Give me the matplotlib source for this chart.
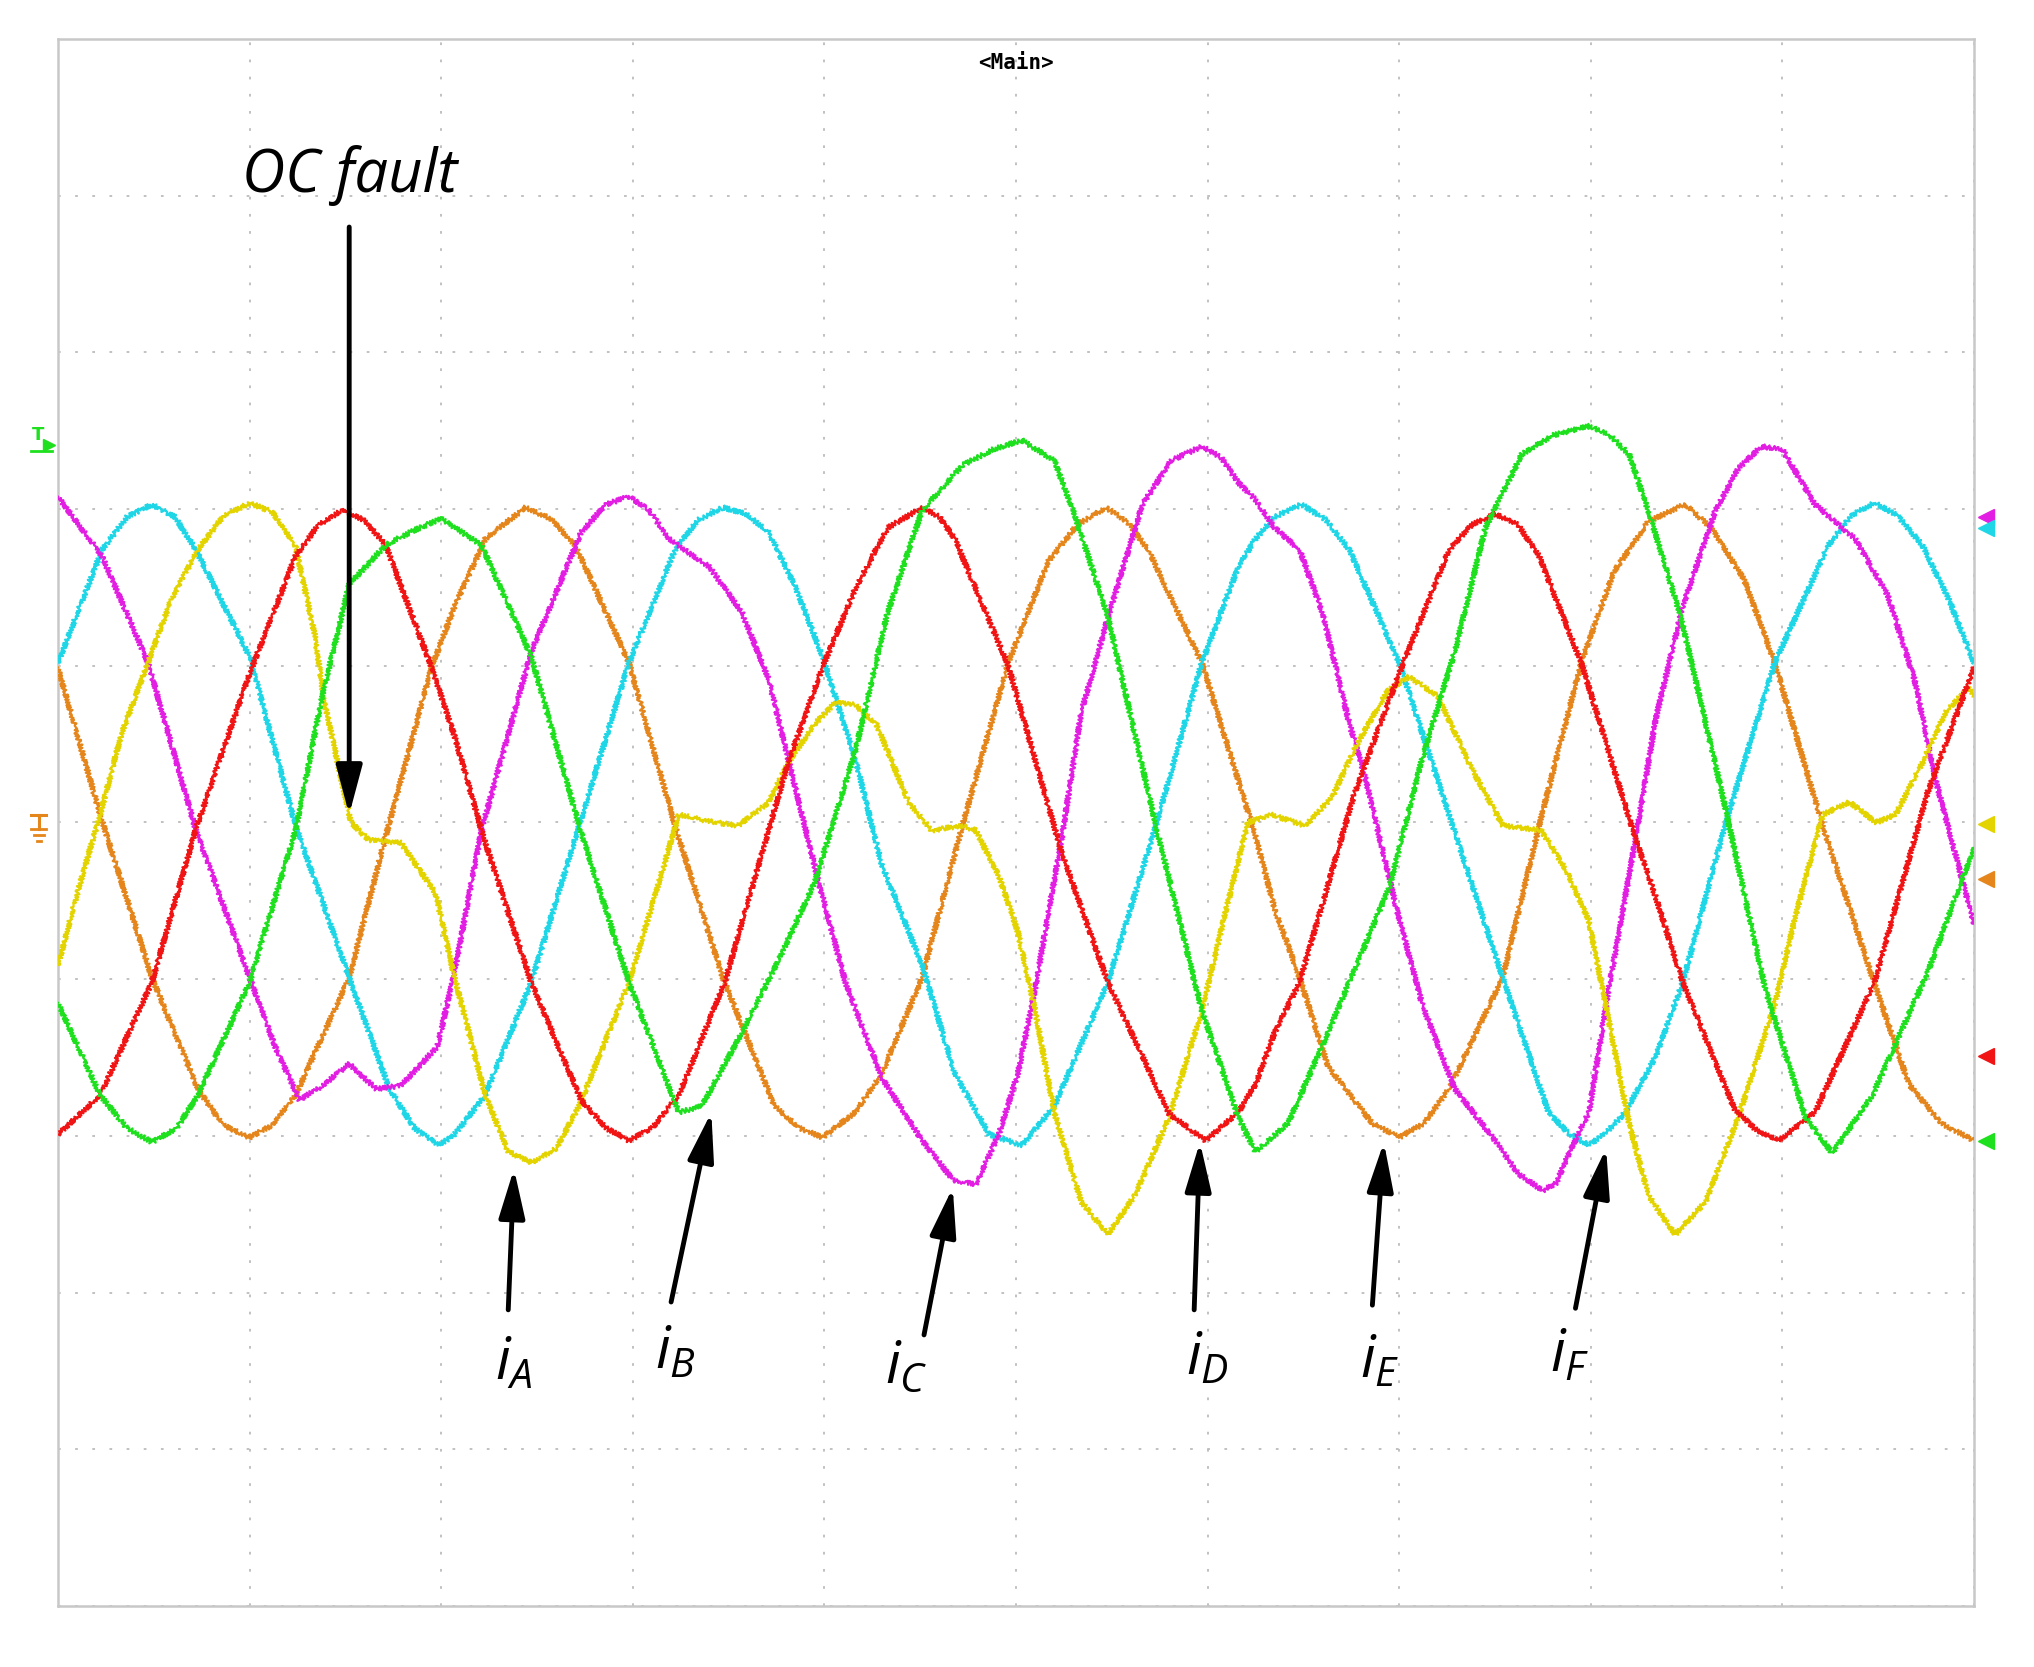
import matplotlib.pyplot as plt

# time axis in scope divisions (0..10), currents in vertical divisions (-5..5)
t_a = [0, 0.11, 0.22, 0.33, 0.47, 0.59, 0.73, 0.86, 1.0, 1.12, 1.24, 1.34, 1.39, 1.48, 1.53, 1.62, 1.79,
       1.97, 2.07, 2.23, 2.35, 2.47, 2.60, 2.72, 2.98, 3.12, 3.24, 3.43, 3.55, 3.71, 3.81, 3.95, 4.06,
       4.16, 4.27, 4.44, 4.56, 4.72, 4.79, 4.91, 5.01, 5.10, 5.20, 5.34, 5.48, 5.62, 5.80, 5.97,
       6.09, 6.21, 6.33, 6.51, 6.65, 6.77, 6.94, 7.05, 7.20, 7.38, 7.54, 7.74, 7.87, 7.99, 8.09,
       8.20, 8.30, 8.44, 8.60, 8.77, 8.96, 9.07, 9.21, 9.35, 9.49, 9.59, 9.73, 9.85, 9.97, 10.0]
i_a = [-0.91, -0.41, 0.05, 0.56, 1.02, 1.42, 1.74, 1.95, 2.04, 1.98, 1.76, 1.20, 0.77, 0.27, 0.0, -0.11, -0.13,
       -0.45, -0.99, -1.74, -2.10, -2.17, -2.08, -1.81, -1.02, -0.45, 0.05, 0.0, -0.02, 0.13, 0.38, 0.63, 0.77,
       0.75, 0.63, 0.13, -0.05, -0.02, -0.05, -0.34, -0.70, -1.20, -1.85, -2.42, -2.63, -2.38, -1.88, -1.20,
       -0.59, 0.0, 0.05, -0.02, 0.16, 0.48, 0.84, 0.93, 0.81, 0.34, -0.02, -0.05, -0.30, -0.63, -1.24,
       -1.92, -2.38, -2.63, -2.42, -1.88, -1.16, -0.59, 0.05, 0.13, 0.0, 0.05, 0.38, 0.70, 0.86, 0.81]

t_b = [0, 0.22, 0.36, 0.49, 0.62, 0.73, 1.0, 1.24, 1.38, 1.52, 1.71, 1.85, 2.0, 2.21, 2.47, 2.72, 2.98, 3.24, 3.36,
       3.57, 3.76, 3.95, 4.16, 4.33, 4.51, 4.72, 4.88, 5.03, 5.20, 5.31, 5.48, 5.73, 5.97, 6.16, 6.25,
       6.42, 6.60, 6.95, 7.12, 7.29, 7.45, 7.64, 7.80, 7.99, 8.10, 8.20, 8.30, 8.47, 8.69, 8.91, 9.12, 9.26,
       9.47, 9.76, 10.0]
i_b = [-1.15, -1.74, -1.95, -2.04, -1.95, -1.74, -1.02, -0.05, 0.81, 1.52, 1.77, 1.86, 1.94, 1.77, 1.06, -0.02, -1.02,
       -1.85, -1.81, -1.34, -0.88, -0.38, 0.45, 1.34, 1.99, 2.28, 2.38, 2.44, 2.31, 1.95, 1.31, -0.02, -1.20,
       -1.88, -2.10, -1.92, -1.42, -0.41, 0.41, 1.09, 1.88, 2.35, 2.47, 2.53, 2.47, 2.35, 1.99, 1.31, 0.16,
       -1.06, -1.88, -2.11, -1.74, -0.95, -0.16]

t_c = [0, 0.23, 0.47, 0.72, 1.0, 1.14, 1.26, 1.38, 1.52, 1.66, 1.79, 1.98, 2.07, 2.21, 2.47, 2.73, 2.86, 2.98,
       3.08, 3.19, 3.40, 3.57, 3.71, 3.81, 3.97, 4.11, 4.30, 4.51, 4.67, 4.79, 4.91, 5.01, 5.10, 5.24, 5.34,
       5.48, 5.66, 5.81, 5.97, 6.07, 6.16, 6.25, 6.35, 6.48, 6.60, 6.74, 6.82, 6.98, 7.12, 7.29, 7.50, 7.62,
       7.75, 7.82, 7.88, 7.99, 8.09, 8.23, 8.34, 8.48, 8.65, 8.77, 8.89, 9.0, 9.17, 9.38, 9.55, 9.69, 9.80, 10.0]
i_c = [2.08, 1.70, 1.02, -0.05, -0.99, -1.45, -1.77, -1.68, -1.54, -1.70, -1.68, -1.43, -0.95, -0.05, 1.09, 1.85,
       2.03, 2.08, 2.00, 1.81, 1.63, 1.34, 0.91, 0.41, -0.38, -1.02, -1.63, -2.03, -2.28, -2.31, -1.99, -1.60,
       -1.06, -0.09, 0.70, 1.31, 2.03, 2.31, 2.40, 2.33, 2.17, 2.06, 1.88, 1.74, 1.34, 0.63, 0.30, -0.52, -1.16,
       -1.70, -2.03, -2.24, -2.35, -2.30, -2.13, -1.85, -1.09, -0.13, 0.67, 1.38, 1.99, 2.26, 2.40, 2.38, 2.03,
       1.81, 1.45, 0.91, 0.27, -0.65]

t_d = [0, 0.22, 0.49, 0.72, 1.0, 1.24, 1.36, 1.48, 1.60, 1.71, 1.95, 2.07, 2.22, 2.47, 2.73, 2.86, 2.98, 3.10,
       3.24, 3.48, 3.81, 3.99, 4.16, 4.33, 4.51, 4.60, 4.68, 4.96, 5.24, 5.48, 5.80, 5.99, 6.16, 6.25, 6.35,
       6.48, 6.77, 7.0, 7.26, 7.38, 7.50, 7.62, 7.73, 7.95, 8.23, 8.34, 8.48, 8.75, 8.87, 8.98, 9.17, 9.48,
       9.76, 10.0]
i_d = [-1.99, -1.74, -1.02, -0.04, 0.95, 1.70, 1.90, 1.99, 1.93, 1.77, 0.99, 0.55, -0.09, -1.02, -1.77, -1.95,
       -2.03, -1.95, -1.74, -1.02, 0.38, 0.99, 1.49, 1.88, 2.01, 1.95, 1.81, 1.0, -0.20, -1.02, -1.86, -2.03,
       -1.85, -1.67, -1.34, -1.02, 0.20, 0.95, 1.74, 1.90, 1.97, 1.90, 1.70, 1.02, -0.09, -0.48, -1.02, -1.83,
       -1.97, -2.03, -1.85, -1.02, 0.20, 0.99]

t_e = [0, 0.22, 0.49, 0.73, 0.86, 1.0, 1.12, 1.24, 1.52, 1.71, 1.95, 2.07, 2.23, 2.44, 2.57, 2.70, 2.98, 3.22,
       3.47, 3.74, 3.87, 3.99, 4.16, 4.30, 4.51, 4.72, 4.96, 5.17, 5.32, 5.47, 5.58, 5.69, 5.97, 6.16, 6.25,
       6.35, 6.48, 6.63, 6.86, 7.0, 7.13, 7.26, 7.54, 7.73, 7.95, 8.12, 8.30, 8.49, 8.63, 8.80, 8.96, 9.21,
       9.47, 9.66, 9.83, 10.0]
i_e = [0.99, 0.05, -0.99, -1.70, -1.93, -2.01, -1.93, -1.74, -0.99, -0.09, 0.99, 1.38, 1.81, 2.01, 1.94, 1.77,
       1.02, -0.02, -0.99, -1.81, -1.95, -2.01, -1.85, -1.60, -0.99, -0.02, 1.02, 1.67, 1.90, 2.01, 1.92, 1.74,
       1.02, 0.27, -0.09, -0.55, -0.99, -1.56, -1.92, -2.01, -1.92, -1.70, -0.99, -0.02, 1.02, 1.60, 1.92,
       2.03, 1.88, 1.55, 1.02, -0.02, -0.99, -1.67, -1.92, -2.03]

t_f = [0, 0.23, 0.36, 0.49, 0.61, 0.72, 1.0, 1.24, 1.52, 1.73, 1.86, 1.99, 2.07, 2.23, 2.47, 2.72, 2.98, 3.22,
       3.34, 3.47, 3.59, 3.71, 3.85, 3.99, 4.16, 4.30, 4.51, 4.68, 4.86, 5.03, 5.20, 5.48, 5.73, 5.97, 6.16,
       6.25, 6.35, 6.49, 6.62, 6.74, 7.0, 7.26, 7.54, 7.78, 7.88, 7.99, 8.08, 8.18, 8.34, 8.48, 8.70, 8.96,
       9.24, 9.36, 9.48, 9.60, 9.73, 9.87, 10.0]
i_f = [1.02, 1.74, 1.95, 2.03, 1.95, 1.74, 1.06, -0.02, -0.99, -1.70, -1.95, -2.06, -1.99, -1.74, -1.02, -0.02,
       1.02, 1.74, 1.93, 2.01, 1.97, 1.85, 1.50, 1.06, 0.41, -0.27, -0.91, -1.60, -1.99, -2.06, -1.81, -1.02,
       -0.02, 1.02, 1.63, 1.81, 1.95, 2.03, 1.93, 1.74, 1.02, 0.05, -0.99, -1.85, -1.98, -2.06, -1.98, -1.85,
       -1.49, -1.02, -0.02, 1.02, 1.77, 1.96, 2.04, 1.96, 1.77, 1.42, 1.02]

phase_names = ['A', 'B', 'C', 'D', 'E', 'F']
phase_colors = ['#e3d400', '#1ee01e', '#e31ee3', '#f01414', '#e5861c', '#1ed6e6']
offset_levels = [-0.01, -2.03, 1.95, -1.49, -0.36, 1.88]

# label arrows: (tail x, tail y, tip x, tip y) and label centres
arrow_tails = [(2.35, -3.11), (3.20, -3.06), (4.52, -3.27), (5.93, -3.11), (6.86, -3.08), (7.92, -3.10)]
arrow_tips = [(2.38, -2.21), (3.41, -1.85), (4.67, -2.33), (5.96, -2.04), (6.92, -2.04), (8.08, -2.08)]
label_pos = [(2.38, -3.45), (3.22, -3.38), (4.43, -3.47), (6.00, -3.42), (6.90, -3.44), (7.89, -3.40)]

plt.rcParams['mathtext.fontset'] = 'custom'
plt.rcParams['mathtext.it'] = 'Open Sans:italic'
plt.rcParams['mathtext.rm'] = 'Open Sans'

fig = plt.figure(figsize=(20.34, 16.67), dpi=100)
ax = fig.add_axes([0.0285, 0.0366, 0.942, 0.94])
ax.set_xlim(0, 10)
ax.set_ylim(-5, 5)

# dotted scope graticule
ax.set_xticks(range(11))
ax.set_yticks(range(-5, 6))
ax.grid(True, color='#bcbcbc', linestyle=(0, (1.5, 8)), linewidth=1.3)
ax.tick_params(length=0, labelbottom=False, labelleft=False)
for s in ax.spines.values():
    s.set_color('#c8c8c8')
    s.set_linewidth(1.8)

series = [(t_a, i_a), (t_b, i_b), (t_c, i_c), (t_d, i_d), (t_e, i_e), (t_f, i_f)]
draw_order = [4, 5, 2, 0, 3, 1]
for k in draw_order:
    t, i = series[k]
    line, = ax.plot(t, i, color=phase_colors[k], linewidth=1.6, zorder=3)
    line.set_sketch_params(scale=2.4, length=3, randomness=2)  # scope trace fuzz

# channel offset markers on the right edge
for k in range(6):
    ax.plot(10.065, offset_levels[k], marker='<', markersize=11, color=phase_colors[k],
            clip_on=False, zorder=4)

# trigger and ground markers on the left edge
ax.text(-0.105, 2.47, 'T', color='#1ee01e', fontsize=13, fontweight='bold',
        ha='center', va='center', clip_on=False)
ax.plot(-0.045, 2.41, marker='>', markersize=8, color='#1ee01e', clip_on=False)
ax.plot([-0.14, -0.03], [2.37, 2.37], color='#1ee01e', lw=2, clip_on=False)
gx, gy = -0.10, 0.0
ax.plot([gx - 0.04, gx + 0.04], [gy + 0.05, gy + 0.05], color='#e5861c', lw=2.2, clip_on=False)
ax.plot([gx, gx], [gy + 0.05, gy - 0.04], color='#e5861c', lw=2.2, clip_on=False)
ax.plot([gx - 0.04, gx + 0.04], [gy - 0.04, gy - 0.04], color='#e5861c', lw=2, clip_on=False)
ax.plot([gx - 0.025, gx + 0.025], [gy - 0.08, gy - 0.08], color='#e5861c', lw=2, clip_on=False)
ax.plot([gx - 0.01, gx + 0.01], [gy - 0.12, gy - 0.12], color='#e5861c', lw=2, clip_on=False)

ax.text(5.0, 4.85, '<Main>', fontsize=15, fontweight='bold', family='DejaVu Sans Mono',
        ha='center', va='center')

# OC fault annotation
ax.text(1.52, 4.13, 'OC fault', fontsize=43, family='Open Sans', style='italic',
        ha='center', va='center')
ax.annotate('', xy=(1.52, 0.05), xytext=(1.52, 3.80),
            arrowprops=dict(arrowstyle='-|>,head_length=0.75,head_width=0.2', lw=3.5,
                            color='black', mutation_scale=40, shrinkA=0, shrinkB=0), zorder=5)

for k in range(6):
    ax.annotate('', xy=arrow_tips[k], xytext=arrow_tails[k],
                arrowprops=dict(arrowstyle='-|>,head_length=0.75,head_width=0.2', lw=3.5,
                                color='black', mutation_scale=40, shrinkA=0, shrinkB=0), zorder=5)
    ax.text(label_pos[k][0], label_pos[k][1], '$i_{' + phase_names[k] + '}$', fontsize=42,
            ha='center', va='center')

plt.savefig('out.png', dpi=100)
